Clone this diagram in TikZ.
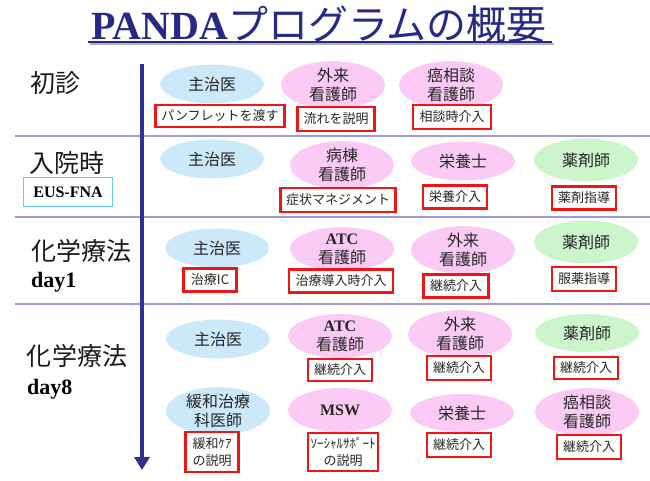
\documentclass[tikz,border=0pt]{standalone}
\usepackage{fontspec}
\setmainfont{Liberation Serif}
\newfontfamily\jp{Noto Sans CJK JP}
\usetikzlibrary{shapes.geometric,arrows.meta}
\definecolor{titlenavy}{HTML}{262A86}
\definecolor{arrownavy}{HTML}{2E3192}
\definecolor{sepline}{HTML}{9C9CDC}
\definecolor{docblue}{HTML}{CCE9FA}
\definecolor{nursepink}{HTML}{FBCBF5}
\definecolor{pharmgreen}{HTML}{CCF5CC}
\definecolor{boxred}{HTML}{F01515}
\definecolor{euscyan}{HTML}{66CCEE}
\begin{document}
\begin{tikzpicture}[x=1pt,y=-1pt,
  role/.style={ellipse, inner sep=0pt, minimum width=104pt, minimum height=39pt,
    align=center, font=\jp\fontsize{16}{19}\selectfont, text=black!85},
  doc/.style={role, fill=docblue},
  nur/.style={role, fill=nursepink},
  phm/.style={role, fill=pharmgreen},
  act/.style={draw=boxred, line width=2.4pt, fill=white, inner sep=0pt,
    align=center, font=\jp\fontsize{13}{17}\selectfont, text=black!85},
  rowlbl/.style={inner sep=0pt, font=\jp\fontsize{25}{28}\selectfont, text=black!90},
  daylbl/.style={inner sep=0pt, anchor=west, font=\bfseries\fontsize{22}{24}\selectfont},
  sep/.style={draw=sepline, line width=1.5pt},
  titlefont/.style={inner sep=0pt, font=\fontsize{40}{44}\selectfont}
]
\useasboundingbox (0,0) rectangle (650,480);

% title
\node[titlefont, text=titlenavy] (title) at (319,24) {{\bfseries PANDA}{\jp プログラムの概要}};
\coordinate (ul1) at (88,42);
\coordinate (ul2) at (552,42);
\coordinate (uls1) at (90,44);
\coordinate (uls2) at (554,44);
\draw[black!30, line width=1.6pt] (uls1) -- (uls2);
\draw[titlenavy, line width=1.8pt] (ul1) -- (ul2);

% separators
\coordinate (s1a) at (15,136); \coordinate (s1b) at (650,136);
\coordinate (s2a) at (15,217); \coordinate (s2b) at (650,217);
\coordinate (s3a) at (15,304); \coordinate (s3b) at (650,304);
\draw[sep] (s1a) -- (s1b);
\draw[sep] (s2a) -- (s2b);
\draw[sep] (s3a) -- (s3b);

% time arrow
\coordinate (atop) at (142,64);
\coordinate (abot) at (142,470);
\draw[arrownavy, line width=4pt, -{Triangle[width=15pt,length=13pt]}] (atop) -- (abot);

% row labels
\node[rowlbl] (r1) at (55,83) {初診};
\node[rowlbl] (r2) at (67,163) {入院時};
\node[draw=euscyan, line width=1.2pt, minimum width=89pt, minimum height=29pt, inner sep=0pt,
  font=\bfseries\fontsize{16}{18}\selectfont] (eus) at (68,192) {EUS-FNA};
\node[rowlbl] (r3) at (81,251) {化学療法};
\node[daylbl] (d1lbl) at (31,282) {day1};
\node[rowlbl] (r4) at (77,356) {化学療法};
\node[daylbl] (d8lbl) at (27,389) {day8};

% row 1
\node[doc] (d1) at (212,84) {主治医};
\node[nur] (n1) at (333,85) {外来\\看護師};
\node[nur] (c1) at (451,85) {癌相談\\看護師};
\node[act, minimum width=129pt, minimum height=22pt] (b1a) at (220,116) {パンフレットを渡す};
\node[act, minimum width=77pt, minimum height=24pt] (b1b) at (336,119) {流れを説明};
\node[act, minimum width=78pt, minimum height=24pt] (b1c) at (452,117) {相談時介入};

% row 2
\node[doc] (d2) at (212,159) {主治医};
\node[nur] (n2) at (342,165) {病棟\\看護師};
\node[nur] (e2) at (463,161) {栄養士};
\node[phm, minimum height=43pt] (p2) at (586,160) {薬剤師};
\node[act, minimum width=115pt, minimum height=24pt] (b2a) at (338,200) {症状マネジメント};
\node[act, minimum width=64pt, minimum height=23pt] (b2b) at (455,197) {栄養介入};
\node[act, minimum width=64pt, minimum height=23pt] (b2c) at (584,198) {薬剤指導};

% row 3
\node[doc] (d3) at (217,248) {主治医};
\node[nur, minimum height=42pt] (n3) at (342,249) {{\rmfamily\bfseries ATC}\\看護師};
\node[nur, minimum height=43pt] (o3) at (463,250) {外来\\看護師};
\node[phm, minimum height=43pt] (p3) at (586,242) {薬剤師};
\node[act, minimum width=53pt, minimum height=23pt] (b3a) at (210,280) {治療IC};
\node[act, minimum width=104pt, minimum height=23pt] (b3b) at (341,281) {治療導入時介入};
\node[act, minimum width=65pt, minimum height=23pt] (b3c) at (456,286) {継続介入};
\node[act, minimum width=64pt, minimum height=24pt] (b3d) at (584,279) {服薬指導};

% row 4a
\node[doc] (d4) at (218,339) {主治医};
\node[nur, minimum height=42pt] (n4) at (340,336) {{\rmfamily\bfseries ATC}\\看護師};
\node[nur, minimum height=42pt] (o4) at (460,334) {外来\\看護師};
\node[phm, minimum height=38pt] (p4) at (587,333) {薬剤師};
\node[act, minimum width=64pt, minimum height=22pt] (b4a) at (340,370) {継続介入};
\node[act, minimum width=64pt, minimum height=24pt] (b4b) at (459,368) {継続介入};
\node[act, minimum width=64pt, minimum height=22pt] (b4c) at (586,368) {継続介入};

% row 4b
\node[doc, minimum height=41pt] (k4) at (218,411) {緩和治療\\科医師};
\node[nur, minimum height=44pt] (m4) at (340,410) {{\rmfamily\bfseries MSW}};
\node[nur, minimum height=38pt] (e4) at (462,413) {栄養士};
\node[nur, minimum height=41pt] (c4) at (587,412) {癌相談\\看護師};
\node[act, minimum width=53pt, minimum height=40pt] (b4d) at (212,452) {緩和ｹｱ\\の説明};
\node[act, minimum width=70pt, minimum height=38pt] (b4e) at (343,452) {ｿｰｼｬﾙｻﾎﾟｰﾄ\\の説明};
\node[act, minimum width=64pt, minimum height=24pt] (b4f) at (459,445) {継続介入};
\node[act, minimum width=64pt, minimum height=24pt] (b4g) at (589,447) {継続介入};
\end{tikzpicture}
\end{document}
